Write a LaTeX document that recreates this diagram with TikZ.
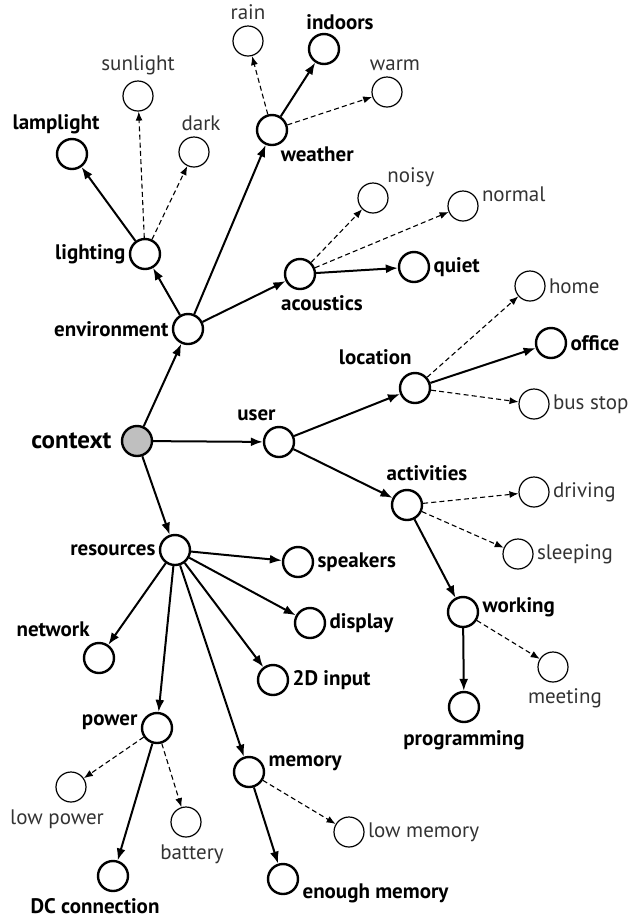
\documentclass[tikz,border=0pt]{standalone}
\usepackage{fontspec}
\setmainfont{PT Sans}
\usetikzlibrary{arrows.meta}

\tikzset{
  ctx/.style={circle, draw, line width=1.2pt, minimum size=15pt, inner sep=0pt},
  opt/.style={circle, draw, line width=0.6pt, minimum size=15pt, inner sep=0pt},
  root/.style={ctx, fill=black!25},
  bl/.style={font=\bfseries\fontsize{10.5}{12}\selectfont, inner sep=1.5pt},
  ol/.style={font=\fontsize{10.5}{12}\selectfont, inner sep=1.5pt, text=black!80},
  sub/.style={-{Latex[length=6pt,width=4.5pt]}, line width=1pt},
  alt/.style={-{Latex[length=4.5pt,width=3.5pt]}, line width=0.55pt, dash pattern=on 2.5pt off 1.6pt},
}

\begin{document}
\begin{tikzpicture}[x=0.5pt, y=-0.5pt]
      \useasboundingbox (0,0) rectangle (631,917);

      % root and first level
      \node [root, label={[bl, font=\bfseries\fontsize{12.5}{14}\selectfont, xshift=-3pt]left:context}] (context) at (137,441) {};
      \node [ctx, label={[bl]left:environment}] (environment) at (188,329) {};
      \node [ctx, label={[bl, anchor=south east, yshift=1pt]north:user}] (user) at (279,442) {};
      \node [ctx, label={[bl]left:resources}] (resources) at (175,550) {};

      % environment
      \node [ctx, label={[bl]left:lighting}] (lighting) at (145,254) {};
      \node [ctx, label={[bl, anchor=north west, xshift=-3pt, yshift=-1pt]south east:weather}] (weather) at (272,130) {};
      \node [ctx, label={[bl, anchor=north, xshift=11pt, yshift=-1pt]south:acoustics}] (acoustics) at (300,274) {};
      \node [ctx, label={[bl, xshift=-8pt]above:lamplight}] (lamplight) at (72,154) {};
      \node [opt, label={[ol, yshift=1pt]above:sunlight}] (sunlight) at (138,96) {};
      \node [opt, label={[ol, xshift=3.5pt, yshift=1pt]above:dark}] (dark) at (194,152) {};
      \node [opt, label={[ol, yshift=1pt]above:rain}] (rain) at (248,41) {};
      \node [ctx, label={[bl, xshift=8pt]above:indoors}] (indoors) at (324,49) {};
      \node [opt, label={[ol, xshift=4pt, yshift=1pt]above:warm}] (warm) at (387,92) {};
      \node [opt, label={[ol, yshift=-1.5pt]above right:noisy}] (noisy) at (373,198) {};
      \node [opt, label={[ol, yshift=6pt]right:normal}] (normal) at (463,206) {};
      \node [ctx, label={[bl]right:quiet}] (quiet) at (414,267) {};

      % user
      \node [ctx, label={[bl, anchor=south east, yshift=2pt]north:location}] (location) at (415,388) {};
      \node [opt, label={[ol]right:home}] (home) at (530,286) {};
      \node [ctx, label={[bl]right:office}] (office) at (551,343) {};
      \node [opt, label={[ol]right:bus stop}] (busstop) at (534,404) {};
      \node [ctx, label={[bl, xshift=10pt, yshift=2.5pt]above:activities}] (activities) at (407,505) {};
      \node [opt, label={[ol]right:driving}] (driving) at (534,492) {};
      \node [opt, label={[ol]right:sleeping}] (sleeping) at (518,554) {};
      \node [ctx, label={[bl, yshift=2.5pt]right:working}] (working) at (463,612) {};
      \node [opt, label={[ol, xshift=6pt, yshift=-1.5pt]below:meeting}] (meeting) at (553,667) {};
      \node [ctx, label={[bl, yshift=-2pt]below:programming}] (programming) at (464,707) {};

      % resources
      \node [ctx, label={[bl]right:speakers}] (speakers) at (298,562) {};
      \node [ctx, label={[bl]right:display}] (display) at (310,623) {};
      \node [ctx, label={[bl]right:2D input}] (input) at (273,680) {};
      \node [ctx, label={[bl, anchor=south east, xshift=-3pt, yshift=1pt]north:network}] (network) at (99,658) {};
      \node [ctx, label={[bl, yshift=3pt]left:power}] (power) at (157,728) {};
      \node [ctx, label={[bl, yshift=4.5pt]right:memory}] (memory) at (249,772) {};
      \node [opt, label={[ol, xshift=-7pt, yshift=-2pt]below:low power}] (lowpower) at (71,787) {};
      \node [opt, label={[ol, xshift=3pt, yshift=-2pt]below:battery}] (battery) at (186,822) {};
      \node [ctx, label={[bl, xshift=-9pt, yshift=-1.5pt]below:DC connection}] (dc) at (113,876) {};
      \node [opt, label={[ol]right:low memory}] (lowmemory) at (349,832) {};
      \node [ctx, label={[bl, yshift=-7pt]right:enough memory}] (enough) at (283,879) {};

      % solid: sub-contexts
      \draw [sub] (context) -- (environment);
      \draw [sub] (context) -- (user);
      \draw [sub] (context) -- (resources);
      \draw [sub] (environment) -- (lighting);
      \draw [sub] (environment) -- (weather);
      \draw [sub] (environment) -- (acoustics);
      \draw [sub] (lighting) -- (lamplight);
      \draw [sub] (weather) -- (indoors);
      \draw [sub] (acoustics) -- (quiet);
      \draw [sub] (user) -- (location);
      \draw [sub] (user) -- (activities);
      \draw [sub] (location) -- (office);
      \draw [sub] (activities) -- (working);
      \draw [sub] (working) -- (programming);
      \draw [sub] (resources) -- (speakers);
      \draw [sub] (resources) -- (display);
      \draw [sub] (resources) -- (input);
      \draw [sub] (resources) -- (network);
      \draw [sub] (resources) -- (power);
      \draw [sub] (resources) -- (memory);
      \draw [sub] (power) -- (dc);
      \draw [sub] (memory) -- (enough);

      % dashed: alternatives
      \draw [alt] (lighting) -- (sunlight);
      \draw [alt] (lighting) -- (dark);
      \draw [alt] (weather) -- (rain);
      \draw [alt] (weather) -- (warm);
      \draw [alt] (acoustics) -- (noisy);
      \draw [alt] (acoustics) -- (normal);
      \draw [alt] (location) -- (home);
      \draw [alt] (location) -- (busstop);
      \draw [alt] (activities) -- (driving);
      \draw [alt] (activities) -- (sleeping);
      \draw [alt] (working) -- (meeting);
      \draw [alt] (power) -- (lowpower);
      \draw [alt] (power) -- (battery);
      \draw [alt] (memory) -- (lowmemory);
\end{tikzpicture}
\end{document}
